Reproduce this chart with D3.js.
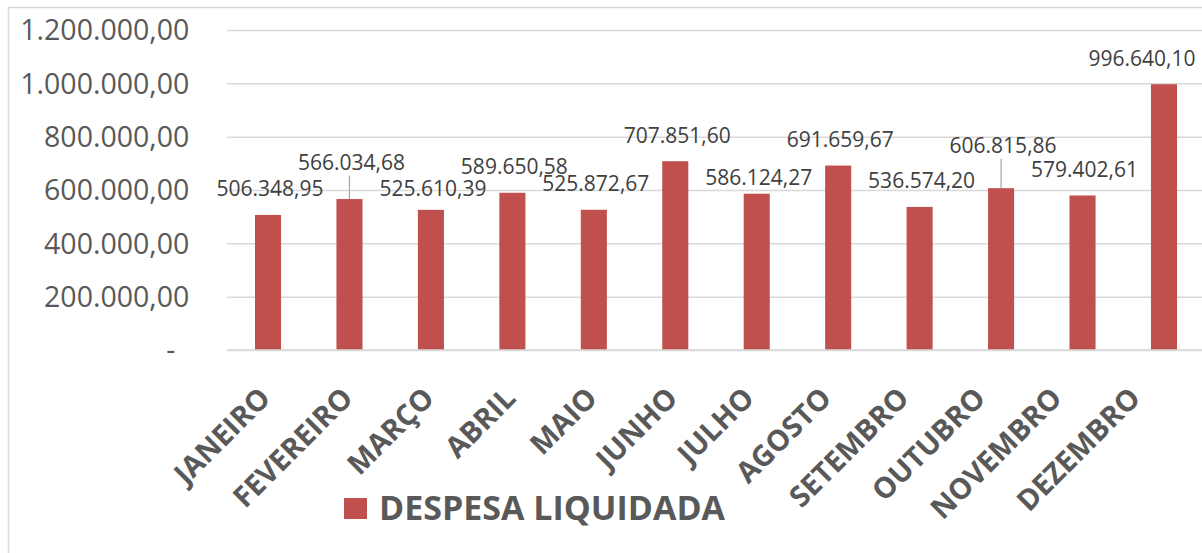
<!DOCTYPE html>
<html>
<head>
<meta charset="utf-8">
<script src="https://cdn.jsdelivr.net/npm/d3@7"></script>
<style>
  body { margin: 0; background: #fff; }
  text { font-family: "Open Sans", sans-serif; }
  .y-axis text { fill: #595959; font-size: 28.5px; }
  .x-axis text { fill: #595959; font-size: 29px; font-weight: bold; }
  .val-label { fill: #404040; font-size: 21px; }
  .legend-text { fill: #595959; font-size: 34px; font-weight: bold; }
</style>
</head>
<body>
<div id="chart"></div>
<script>
// data
const months = ["JANEIRO", "FEVEREIRO", "MARÇO", "ABRIL", "MAIO", "JUNHO",
  "JULHO", "AGOSTO", "SETEMBRO", "OUTUBRO", "NOVEMBRO", "DEZEMBRO"];
const despesa = [506348.95, 566034.68, 525610.39, 589650.58, 525872.67, 707851.60,
  586124.27, 691659.67, 536574.20, 606815.86, 579402.61, 996640.10];
const yTicks = [0, 200000, 400000, 600000, 800000, 1000000, 1200000];
const seriesName = "DESPESA LIQUIDADA";

// label nudges (the way excel placed them)
const labelDx = [0, 0, 0, 0, 0, 0, 0, 0, 0, 0, 0, -24];
const labelDy = [0, -11, 5, 0, 0, 0, 10, 0, 0, -17, 0, 0];
const tickDx = [4, 5, 5, 5, 5, 4, -1, -5, -9, -14, -19, -22];

const W = 1202, H = 553;
const margin = {top: 30, left: 227.3, bottom: 203};
const plotW = 81.45 * 12, plotH = H - margin.top - margin.bottom;
const barColor = "#C0504D";

const svg = d3.select("#chart").append("svg")
  .attr("width", W).attr("height", H);

// chart border
svg.append("rect")
  .attr("x", 8.5).attr("y", 7.5)
  .attr("width", W + 20).attr("height", H + 20)
  .attr("fill", "none").attr("stroke", "#d9d9d9").attr("stroke-width", 1.5);

const g = svg.append("g")
  .attr("transform", `translate(${margin.left},${margin.top})`);

const x = d3.scaleBand()
  .domain(months)
  .range([0, plotW])
  .paddingInner(0.68)
  .paddingOuter(0.34);

const y = d3.scaleLinear()
  .domain([0, 1200000])
  .range([plotH, 0]);

const fmt = d3.formatLocale({decimal: ",", thousands: ".", grouping: [3], currency: ["", ""]}).format(",.2f");

// Y axis with gridlines
const yAxis = g.append("g")
  .attr("class", "y-axis")
  .call(d3.axisLeft(y)
    .tickValues(yTicks)
    .tickSizeInner(-plotW)
    .tickSizeOuter(0)
    .tickPadding(38)
    .tickFormat(d => d === 0 ? "-" : fmt(d)));
yAxis.select(".domain").remove();
yAxis.selectAll("line").attr("stroke", "#d9d9d9").attr("stroke-width", 1.5);
yAxis.selectAll("text").attr("dy", "0.35em")
  .filter(d => d === 0).attr("dx", -14);

// bars
g.append("g")
  .selectAll("rect")
  .data(despesa)
  .join("rect")
    .attr("x", (d, i) => x(months[i]))
    .attr("y", d => y(d))
    .attr("width", x.bandwidth())
    .attr("height", d => plotH - y(d))
    .attr("fill", barColor);

// value labels
const cx = i => x(months[i]) + x.bandwidth() / 2;
g.append("g")
  .selectAll("text")
  .data(despesa)
  .join("text")
    .attr("class", "val-label")
    .attr("text-anchor", "middle")
    .attr("x", (d, i) => cx(i) + 2 + labelDx[i])
    .attr("y", (d, i) => y(d) - 18.5 + labelDy[i])
    .text(d => fmt(d));

// leader lines for labels pushed away from bars
g.append("g")
  .selectAll("line")
  .data(despesa.map((d, i) => ({v: d, i: i})).filter(d => labelDy[d.i] < -8))
  .join("line")
    .attr("x1", d => cx(d.i)).attr("x2", d => cx(d.i))
    .attr("y1", d => y(d.v) - 18.5 + labelDy[d.i] + 6)
    .attr("y2", d => y(d.v))
    .attr("stroke", "#a6a6a6").attr("stroke-width", 1.2);

// X axis labels (rotated)
const xAxis = g.append("g")
  .attr("class", "x-axis")
  .attr("transform", `translate(0,${plotH})`);
xAxis.append("line")
  .attr("x1", 0).attr("x2", plotW)
  .attr("stroke", "#d9d9d9").attr("stroke-width", 1.5);
xAxis.selectAll("text")
  .data(months)
  .join("text")
    .attr("text-anchor", "end")
    .attr("transform", (d, i) => `translate(${cx(i) + tickDx[i]},50) rotate(-45)`)
    .text(d => d);

// legend
svg.append("rect")
  .attr("x", 344).attr("y", 498)
  .attr("width", 23).attr("height", 21)
  .attr("fill", barColor);
svg.append("text")
  .attr("class", "legend-text")
  .attr("x", 379).attr("y", 520)
  .text(seriesName);
</script>
</body>
</html>
